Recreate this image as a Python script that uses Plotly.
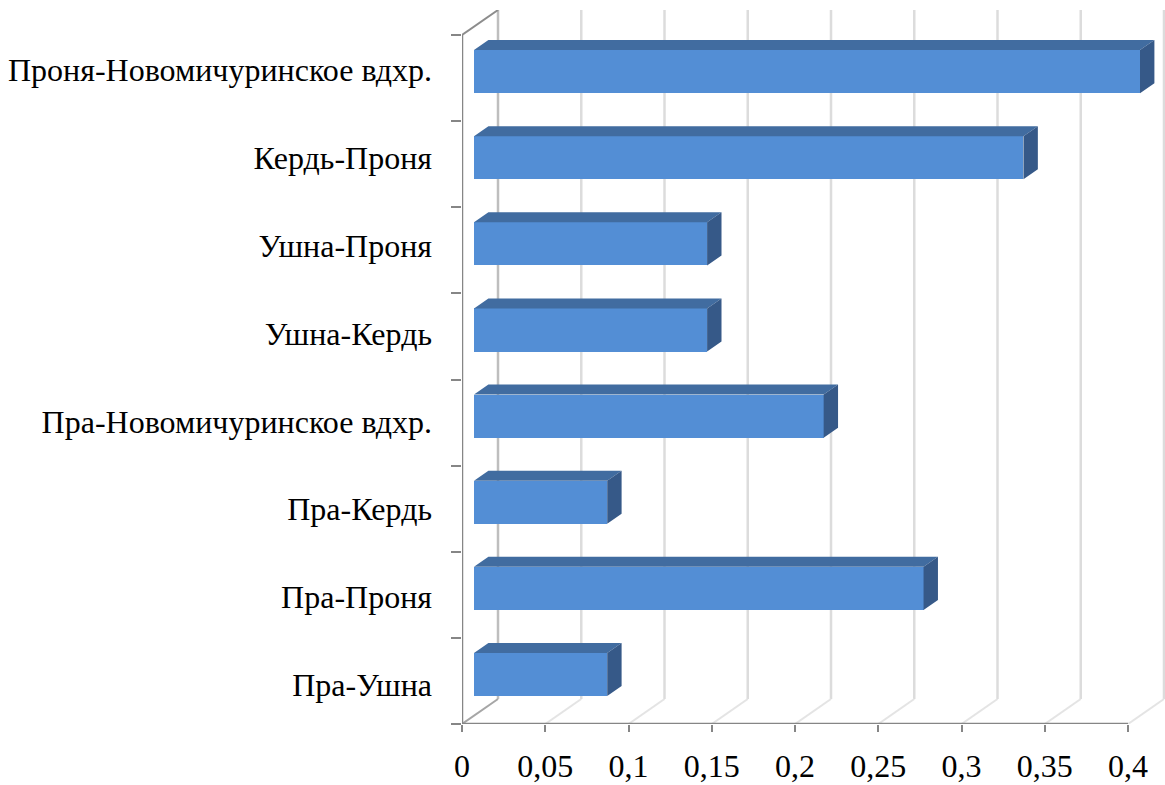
import plotly.graph_objects as go

# ---- data ----
categories = ["Пра-Ушна", "Пра-Проня", "Пра-Кердь", "Пра-Новомичуринское вдхр.",
              "Ушна-Кердь", "Ушна-Проня", "Кердь-Проня", "Проня-Новомичуринское вдхр."]
values = [0.08, 0.27, 0.08, 0.21, 0.14, 0.14, 0.33, 0.40]
tick_values = [0, 0.05, 0.1, 0.15, 0.2, 0.25, 0.3, 0.35, 0.4]
tick_labels = ["0", "0,05", "0,1", "0,15", "0,2", "0,25", "0,3", "0,35", "0,4"]

# ---- geometry helpers (pixel -> data units) ----
W, H = 1165, 785
X_PX = 1665.0          # px per x unit
Y_PX = 86.125          # px per category
DEPTH_X = 36 / X_PX    # back wall offset
DEPTH_Y = 25 / Y_PX
BAR_DX = 14.4 / X_PX   # bar depth
BAR_DY = 10 / Y_PX
BASE = 12 / X_PX       # bar front face offset from axis
BAR_OFF = 0.075
HALF = 0.25

x_left_px, x_right_px = 462, W
y_bot_px, y_top_px = 724, 10
x_range = [0, (x_right_px - x_left_px) / X_PX]
y_range = [-0.5, -0.5 + (y_bot_px - y_top_px) / Y_PX]
xmax = tick_values[-1]
ytop = len(categories) - 0.5

FRONT = "#538ED5"
TOP = "#416CA0"
SIDE = "#365988"
AXIS = "#868686"
GRID = "#DCDCDC"
GRID0 = "#BEBEBE"

fig = go.Figure()

ypos = [i + BAR_OFF for i in range(len(categories))]
fig.add_trace(go.Bar(orientation="h", y=ypos, x=values, base=BASE, width=2 * HALF,
                     marker=dict(color=FRONT, line=dict(width=0)), hoverinfo="skip",
                     showlegend=False))

# top faces and side faces
tx, ty, sx, sy = [], [], [], []
for yc, v in zip(ypos, values):
    x0, x1 = BASE, BASE + v
    yt, yb = yc + HALF, yc - HALF
    tx += [x0, x1, x1 + BAR_DX, x0 + BAR_DX, x0, None]
    ty += [yt, yt, yt + BAR_DY, yt + BAR_DY, yt, None]
    sx += [x1, x1 + BAR_DX, x1 + BAR_DX, x1, x1, None]
    sy += [yb, yb + BAR_DY, yt + BAR_DY, yt, yb, None]
fig.add_trace(go.Scatter(x=tx, y=ty, mode="lines", fill="toself", fillcolor=TOP,
                         line=dict(width=0, color=TOP), hoverinfo="skip", showlegend=False))
fig.add_trace(go.Scatter(x=sx, y=sy, mode="lines", fill="toself", fillcolor=SIDE,
                         line=dict(width=0, color=SIDE), hoverinfo="skip", showlegend=False))

shapes = []
# back wall gridlines and floor diagonals
for k, t in enumerate(tick_values):
    col = GRID0 if k == 0 else GRID
    shapes.append(dict(type="line", xref="x", yref="y", layer="below",
                       x0=t + DEPTH_X, x1=t + DEPTH_X, y0=-0.5 + DEPTH_Y, y1=ytop + DEPTH_Y,
                       line=dict(color=col, width=2.5)))
    shapes.append(dict(type="line", xref="x", yref="y", layer="below",
                       x0=t, x1=t + DEPTH_X, y0=-0.5, y1=-0.5 + DEPTH_Y,
                       line=dict(color="#A6A6A6" if k == 0 else "#E4E4E4", width=2)))
# top-left diagonal
shapes.append(dict(type="line", xref="x", yref="y", layer="below",
                   x0=0, x1=DEPTH_X, y0=ytop, y1=ytop + DEPTH_Y,
                   line=dict(color="#8C8C8C", width=2)))
# axis lines
shapes.append(dict(type="line", xref="x", yref="y", layer="above",
                   x0=0, x1=xmax, y0=-0.5, y1=-0.5, line=dict(color=AXIS, width=2.5)))
shapes.append(dict(type="line", xref="x", yref="y", layer="above",
                   x0=0, x1=0, y0=-0.5, y1=ytop, line=dict(color=AXIS, width=2.5)))

label_pos = [-0.047 + i * 1.0204 for i in range(len(categories))]

fig.update_layout(
    width=W, height=H, margin=dict(l=0, r=0, t=0, b=0, pad=0),
    paper_bgcolor="white", plot_bgcolor="white",
    shapes=shapes, bargap=0,
    font=dict(family="Liberation Serif", color="black", size=32),
    xaxis=dict(domain=[x_left_px / W, 1.0], range=x_range, showgrid=False, zeroline=False,
               showline=False, tickvals=tick_values, ticktext=tick_labels,
               ticks="outside", ticklen=7, tickwidth=2, tickcolor=AXIS,
               ticklabelstandoff=7, automargin=False,
               tickfont=dict(family="Liberation Serif", size=32, color="black"),
               fixedrange=True),
    yaxis=dict(domain=[(H - y_bot_px) / H, (H - y_top_px) / H], range=y_range,
               showgrid=False, zeroline=False, showline=False,
               tickvals=[i - 0.5 for i in range(len(categories) + 1)],
               ticks="outside", ticklen=10, tickwidth=2, tickcolor=AXIS,
               showticklabels=False, automargin=False, fixedrange=True),
    yaxis2=dict(overlaying="y", anchor="x", side="left", range=y_range,
                showgrid=False, zeroline=False, showline=False,
                tickvals=label_pos, ticktext=categories, ticks="",
                ticklabelstandoff=29, automargin=False,
                tickfont=dict(family="Liberation Serif", size=32, color="black"),
                fixedrange=True),
)
# invisible trace to activate yaxis2
fig.add_trace(go.Scatter(x=[0], y=[0], yaxis="y2", mode="markers",
                         marker=dict(opacity=0), hoverinfo="skip", showlegend=False))

fig.write_html("out.html")
